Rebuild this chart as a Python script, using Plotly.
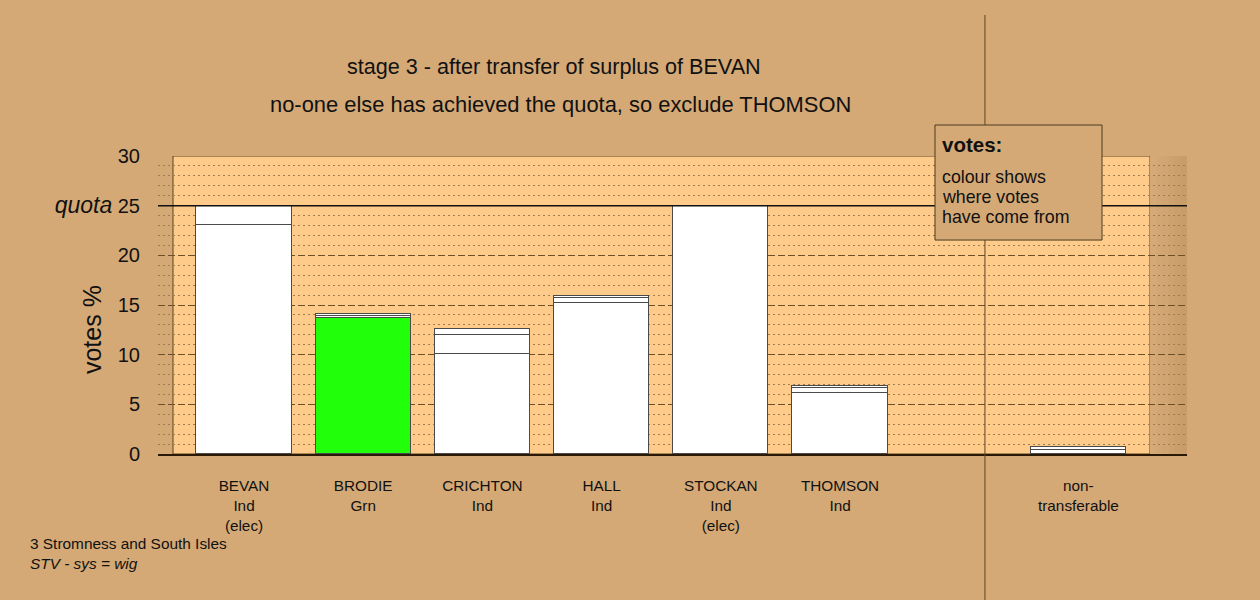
import plotly.graph_objects as go

# ---- data ----
candidates = ["BEVAN", "BRODIE", "CRICHTON", "HALL", "STOCKAN", "THOMSON", "non-"]
parties = ["Ind", "Grn", "Ind", "Ind", "Ind", "Ind", "transferable"]
status = ["(elec)", "", "", "", "(elec)", "", ""]
positions = [0, 1, 2, 3, 4, 5, 7]

first_prefs = [23.05, 13.7, 10.05, 15.25, 25.0, 6.1, None]
stage2_transfer = [1.95, 0.2, 1.9, 0.45, None, 0.55, 0.4]
stage3_transfer = [None, 0.2, 0.6, 0.22, None, 0.17, 0.27]

first_colours = ["#FFFFFF", "#22FF0A", "#FFFFFF", "#FFFFFF", "#FFFFFF", "#FFFFFF", "#FFFFFF"]
quota = 25
y_ticks = [0, 5, 10, 15, 20, 25, 30]
y_ticktext = ["0", "5", "10", "15", "20",
              "<i><span style='font-size:23px'>quota</span></i> 25", "30"]

title1 = "stage 3 - after transfer of surplus of BEVAN"
title2 = "no-one else has achieved the quota, so exclude THOMSON"
footer1 = "3 Stromness and South Isles"
footer2 = "<i>STV - sys = wig</i>"

# ---- style ----
BG = "#D4A976"
PANEL = "#FFCB8A"
FONT = "Liberation Sans, Arial, sans-serif"
BAR_LINE = dict(color="#4a4a4a", width=1)

xticktext = []
for n, p, s in zip(candidates, parties, status):
    t = n + "<br>" + p
    if s:
        t += "<br>" + s
    xticktext.append(t)

fig = go.Figure()
for vals, cols in [(first_prefs, first_colours),
                   (stage2_transfer, ["#FFFFFF"] * 7),
                   (stage3_transfer, ["#FFFFFF"] * 7)]:
    fig.add_trace(go.Bar(x=positions, y=vals, width=0.8,
                         marker=dict(color=cols, line=BAR_LINE),
                         showlegend=False, hoverinfo="skip"))

X0, X1 = -0.7215, 7.911
PL, PR = -0.5956, 7.6007
shapes = []
# panel
shapes.append(dict(type="rect", xref="x", yref="y", x0=PL, x1=PR, y0=0, y1=30,
                   fillcolor=PANEL, line=dict(color="#5a4020", width=1), layer="below"))
# right shaded strip
steps = ["#D5AA76", "#D3A773", "#D0A571", "#CEA26E", "#CB9F6B", "#C99D69"]
w = (X1 - PR) / len(steps)
for i, c in enumerate(steps):
    shapes.append(dict(type="rect", xref="x", yref="y", x0=PR + i * w, x1=PR + (i + 1) * w + 0.002,
                       y0=0, y1=30, fillcolor=c, line=dict(width=0), layer="below"))
# quota line
shapes.append(dict(type="line", xref="paper", yref="y", x0=0, x1=1, y0=quota, y1=quota,
                   line=dict(color="#111111", width=1.5), layer="above"))
# separator vertical line
shapes.append(dict(type="line", xref="x", yref="paper", x0=6.216, x1=6.216, y0=-0.5, y1=1.473,
                   line=dict(color="#5a4424", width=1), layer="above"))
# legend box
shapes.append(dict(type="rect", xref="paper", yref="paper", x0=0.7551, x1=0.9174, y0=0.718, y1=1.104,
                   fillcolor=BG, line=dict(color="#4a3a20", width=1), layer="above"))


def ann(text, x, y, size, xanchor="left", **kw):
    return dict(text=text, x=x, y=y, xref="paper", yref="paper", showarrow=False,
                xanchor=xanchor, yanchor="middle", font=dict(size=size, color="#111"), **kw)


annotations = [
    ann(title1, 0.3848, 1.302, 21.6, "center"),
    ann(title2, 0.3907, 1.174, 21.9, "center"),
    ann("votes %", -0.0641, 0.416, 25, "center", textangle=-90),
    ann("<b>votes:</b>", 0.7600, 1.037, 20.5),
    ann("colour shows", 0.7600, 0.9295, 17.8),
    ann("where votes", 0.7600, 0.8624, 17.8),
    ann("have come from", 0.7600, 0.7953, 17.8),
    ann(footer1, -0.1264, -0.302, 15.4),
    ann(footer2, -0.1264, -0.369, 15.4),
]

fig.update_layout(
    width=1260, height=600,
    margin=dict(l=158, r=73, t=156, b=146),
    paper_bgcolor=BG, plot_bgcolor=BG,
    barmode="stack", bargap=0,
    font=dict(family=FONT, color="#111"),
    shapes=shapes, annotations=annotations,
    xaxis=dict(range=[X0, X1], tickvals=positions, ticktext=xticktext,
               showgrid=False, zeroline=False, showline=True,
               linecolor="#2a1a05", linewidth=2,
               ticks="outside", ticklen=17, tickcolor="rgba(0,0,0,0)",
               tickfont=dict(size=15.3, color="#111"), fixedrange=True),
    yaxis=dict(range=[0, 30], tickvals=y_ticks, ticktext=y_ticktext,
               showgrid=True, gridcolor="#6e5028", gridwidth=1, griddash="7px,3px",
               minor=dict(dtick=1, showgrid=True, gridcolor="#a07c50", gridwidth=1,
                          griddash="2px,3px", ticks=""),
               zeroline=False, showline=False,
               ticks="outside", ticklen=13, tickcolor="rgba(0,0,0,0)",
               tickfont=dict(size=20, color="#111"), fixedrange=True),
)

fig.write_html("out.html", config={"displayModeBar": False},
               post_script="document.body.style.margin='0px';")
